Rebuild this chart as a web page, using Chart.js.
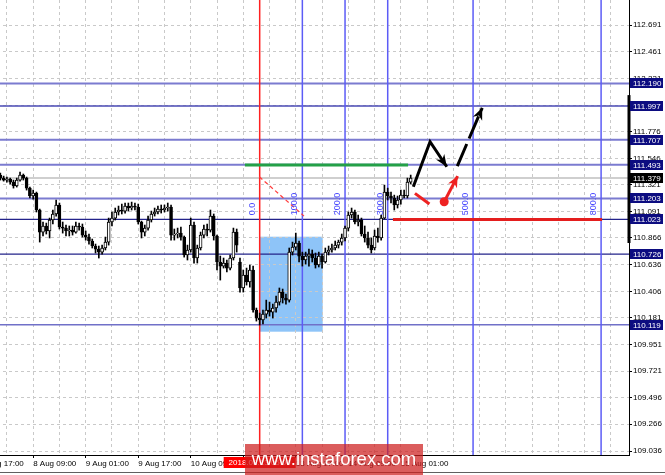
<!DOCTYPE html>
<html>
<head>
<meta charset="utf-8">
<script src="https://cdn.jsdelivr.net/npm/chart.js@4.4.0/dist/chart.umd.min.js"></script>
<style>
  html, body { margin: 0; padding: 0; background: #fff; overflow: hidden; }
  #wrap { position: relative; width: 665px; height: 475px; overflow: hidden; }
  #chart { position: absolute; left: -21px; top: 0; }
  #wm { position: absolute; left: 245px; top: 444px; width: 178px; height: 31px; background: rgba(205,30,30,0.72);
        color: #fff; font: 18.5px "Liberation Sans", Arial, sans-serif; line-height: 30px; text-align: center; }
  #edge { position: absolute; left: 0; top: 472px; width: 665px; height: 1px; background: #606060; }
</style>
</head>
<body>
<div id="wrap">
  <canvas id="chart" width="686" height="475"></canvas>
  <div id="edge"></div>
  <div id="wm">www.instaforex.com</div>
</div>
<script>
// USDJPY H1, 7 Aug 17:00 .. 15 Aug 05:00 (bar slots on the time axis)
const slots = 198;
const firstBar = 6;
const tickText = {0: '7 Aug 17:00', 16: '8 Aug 09:00', 32: '9 Aug 01:00', 48: '9 Aug 17:00', 64: '10 Aug 09:00',
                  80: '13 Aug 01:00', 96: '13 Aug 17:00', 112: '14 Aug 09:00', 128: '15 Aug 01:00'};
const yTicks = [112.691, 112.461, 112.231, 112.001, 111.776, 111.546, 111.321, 111.091, 110.866,
                110.636, 110.406, 110.181, 109.951, 109.721, 109.496, 109.266, 109.036];
const yMin = 109.002, yMax = 112.906;

const opens = [
  111.404, 111.378, 111.361, 111.370, 111.344, 111.310, 111.361, 111.404, 111.378, 111.292,
  111.224, 111.250, 111.104, 110.915, 110.967, 110.924, 111.018, 111.070, 111.147, 110.958,
  110.949, 110.924, 110.932, 110.915, 110.967, 110.958, 110.889, 110.872, 110.838, 110.795,
  110.769, 110.743, 110.778, 110.829, 111.001, 111.035, 111.087, 111.104, 111.095, 111.138,
  111.121, 111.138, 111.130, 111.001, 110.915, 110.949, 111.018, 111.070, 111.087, 111.112,
  111.104, 111.121, 111.130, 110.889, 110.898, 110.906, 110.872, 110.718, 110.761, 110.975,
  110.692, 110.778, 110.889, 110.941, 110.932, 111.052, 110.881, 110.658, 110.623, 110.649,
  110.606, 110.692, 110.915, 110.658, 110.435, 110.546, 110.486, 110.589, 110.246, 110.177,
  110.160, 110.211, 110.246, 110.228, 110.263, 110.314, 110.400, 110.349, 110.331, 110.743,
  110.786, 110.821, 110.709, 110.675, 110.709, 110.726, 110.692, 110.632, 110.709, 110.658,
  110.743, 110.761, 110.778, 110.803, 110.829, 110.864, 110.949, 111.061, 111.087, 111.001,
  111.018, 110.898, 110.864, 110.803, 110.778, 110.881, 110.864, 111.035, 111.258, 111.224,
  111.207, 111.147, 111.190, 111.232, 111.224, 111.344
];
const highs = [
  111.421, 111.395, 111.387, 111.378, 111.361, 111.378, 111.430, 111.413, 111.387, 111.301,
  111.275, 111.258, 111.112, 111.001, 110.992, 111.035, 111.104, 111.190, 111.164, 111.001,
  110.975, 110.967, 110.967, 111.001, 110.992, 110.984, 110.924, 110.898, 110.855, 110.812,
  110.795, 110.803, 110.872, 111.035, 111.087, 111.121, 111.138, 111.155, 111.164, 111.164,
  111.172, 111.164, 111.155, 111.009, 110.975, 111.052, 111.095, 111.121, 111.138, 111.147,
  111.147, 111.164, 111.147, 110.941, 110.949, 110.958, 110.881, 110.803, 111.035, 111.001,
  110.803, 110.915, 110.975, 110.984, 111.104, 111.070, 110.889, 110.709, 110.692, 110.675,
  110.718, 110.949, 110.941, 110.692, 110.589, 110.606, 110.632, 110.623, 110.263, 110.220,
  110.246, 110.331, 110.314, 110.297, 110.366, 110.435, 110.426, 110.383, 110.778, 110.829,
  110.906, 110.838, 110.743, 110.743, 110.769, 110.761, 110.735, 110.743, 110.726, 110.778,
  110.795, 110.812, 110.838, 110.846, 110.898, 110.967, 111.087, 111.121, 111.104, 111.061,
  111.035, 110.967, 110.915, 110.864, 110.932, 110.949, 111.061, 111.318, 111.292, 111.258,
  111.232, 111.224, 111.275, 111.275, 111.378, 111.404
];
const lows = [
  111.361, 111.352, 111.344, 111.327, 111.292, 111.301, 111.352, 111.361, 111.275, 111.207,
  111.198, 111.087, 110.829, 110.881, 110.898, 110.864, 110.984, 111.052, 110.941, 110.906,
  110.881, 110.881, 110.889, 110.906, 110.932, 110.872, 110.846, 110.812, 110.778, 110.735,
  110.692, 110.726, 110.761, 110.803, 110.967, 111.018, 111.061, 111.070, 111.078, 111.095,
  111.104, 111.104, 110.984, 110.864, 110.881, 110.932, 111.001, 111.052, 111.070, 111.078,
  111.087, 111.095, 110.846, 110.846, 110.864, 110.846, 110.700, 110.675, 110.743, 110.649,
  110.649, 110.761, 110.864, 110.881, 110.915, 110.846, 110.589, 110.503, 110.606, 110.572,
  110.589, 110.675, 110.743, 110.400, 110.400, 110.460, 110.443, 110.228, 110.151, 110.117,
  110.126, 110.177, 110.194, 110.177, 110.228, 110.288, 110.306, 110.297, 110.314, 110.718,
  110.761, 110.658, 110.623, 110.640, 110.623, 110.658, 110.606, 110.615, 110.606, 110.649,
  110.718, 110.743, 110.761, 110.778, 110.803, 110.838, 110.924, 111.035, 110.984, 110.967,
  110.881, 110.829, 110.778, 110.735, 110.761, 110.829, 110.846, 111.027, 111.190, 111.164,
  111.104, 111.121, 111.155, 111.207, 111.207, 111.327
];
const closes = [
  111.378, 111.361, 111.370, 111.344, 111.310, 111.361, 111.404, 111.378, 111.292, 111.224,
  111.250, 111.104, 110.915, 110.967, 110.924, 111.018, 111.070, 111.147, 110.958, 110.949,
  110.924, 110.932, 110.915, 110.967, 110.958, 110.889, 110.872, 110.838, 110.795, 110.769,
  110.743, 110.778, 110.829, 111.001, 111.035, 111.087, 111.104, 111.095, 111.138, 111.121,
  111.138, 111.130, 111.001, 110.915, 110.949, 111.018, 111.070, 111.087, 111.112, 111.104,
  111.121, 111.130, 110.889, 110.898, 110.906, 110.872, 110.718, 110.761, 110.975, 110.692,
  110.778, 110.889, 110.941, 110.932, 111.052, 110.881, 110.658, 110.623, 110.649, 110.606,
  110.692, 110.915, 110.803, 110.435, 110.546, 110.486, 110.589, 110.246, 110.177, 110.160,
  110.211, 110.246, 110.228, 110.263, 110.314, 110.400, 110.349, 110.331, 110.743, 110.786,
  110.821, 110.709, 110.675, 110.709, 110.726, 110.692, 110.632, 110.709, 110.658, 110.743,
  110.761, 110.778, 110.803, 110.829, 110.864, 110.949, 111.061, 111.087, 111.001, 111.018,
  110.898, 110.864, 110.803, 110.761, 110.881, 110.864, 111.035, 111.258, 111.224, 111.207,
  111.147, 111.190, 111.232, 111.224, 111.344, 111.378
];

// horizontal levels and the last price
const levelPrices = [112.190, 111.997, 111.707, 111.493, 111.203, 111.023, 110.726, 110.119];
const levelColors = ['#7b7bd0', '#4a4ab4', '#7b7bd0', '#7b7bd0', '#7b7bd0', '#23238a', '#23238a', '#7070c8'];
const levelWidths = [2, 1.5, 2, 2, 2, 1.2, 1.2, 1.5];
const lastPrice = 111.379;

// Fibonacci time zones
const fibStart = 85, fibStep = 13;
const fibZones = [0, 1, 2, 3, 5, 8];
const fibLabels = ['0.0', '100.0', '200.0', '300.0', '500.0', '800.0'];
const fibLabelPrice = 111.06;
const startDate = '2018.08.13 05:00';

// drawn objects, in [bar slot, price]
const zoneBox = [[84.9, 110.875], [104.2, 110.060]];
const greenLine = [[80.5, 111.490], [130.2, 111.490]];
const redLine = [[125.6, 111.023], [189.3, 111.023]];
const dashedRed = [[84.9, 111.389], [98.5, 111.052]];
const blackPath = [[131.8, 111.304], [136.9, 111.690], [142.0, 111.475]];
const blackDashed = [[145.2, 111.481], [152.8, 111.981]];
const redTick = [[132.3, 111.247], [136.7, 111.155]];
const redArrow = [[141.2, 111.175], [145.3, 111.395]];
const axisMark = [112.090, 110.821];

const FONT = '"Liberation Sans", Arial, sans-serif';

const labels = [], wicks = [], bodies = [], fills = [];
for (let i = 0; i < slots; i++) {
  labels.push(i);
  const k = i - firstBar;
  if (k >= 0 && k < opens.length) {
    wicks.push([lows[k], highs[k]]);
    bodies.push([opens[k], closes[k]]);
    fills.push(closes[k] >= opens[k] ? '#ffffff' : '#000000');
  } else {
    wicks.push(null);
    bodies.push(null);
    fills.push('#000000');
  }
}

function line(ctx, pts, color, width, dash) {
  ctx.save();
  ctx.strokeStyle = color;
  ctx.lineWidth = width;
  ctx.setLineDash(dash || []);
  ctx.beginPath();
  pts.forEach((p, i) => i ? ctx.lineTo(p[0], p[1]) : ctx.moveTo(p[0], p[1]));
  ctx.stroke();
  ctx.restore();
}

function head(ctx, from, to, color, len, half) {
  const a = Math.atan2(to[1] - from[1], to[0] - from[0]);
  ctx.save();
  ctx.fillStyle = color;
  ctx.translate(to[0], to[1]);
  ctx.rotate(a);
  ctx.beginPath();
  ctx.moveTo(0, 0);
  ctx.lineTo(-len, -half);
  ctx.lineTo(-len * 0.7, 0);
  ctx.lineTo(-len, half);
  ctx.closePath();
  ctx.fill();
  ctx.restore();
}

function axisBox(ctx, area, yPix, text, bg) {
  ctx.save();
  ctx.fillStyle = bg;
  ctx.fillRect(area.right + 1, Math.round(yPix) - 5, 33, 10);
  ctx.fillStyle = '#fff';
  ctx.font = '8px ' + FONT;
  ctx.textBaseline = 'middle';
  ctx.textAlign = 'left';
  ctx.fillText(text, area.right + 4, Math.round(yPix) + 0.5);
  ctx.restore();
}

const objects = {
  id: 'objects',
  beforeDraw(chart) {
    const {ctx, scales: {x, y}} = chart;
    const x1 = x.getPixelForValue(zoneBox[0][0]), x2 = x.getPixelForValue(zoneBox[1][0]);
    const y1 = y.getPixelForValue(zoneBox[0][1]), y2 = y.getPixelForValue(zoneBox[1][1]);
    ctx.save();
    ctx.fillStyle = '#8ec4f8';
    ctx.fillRect(x1, y1, x2 - x1, y2 - y1);
    ctx.restore();
  },
  beforeDatasetsDraw(chart) {
    const {ctx, chartArea: a, scales: {x, y}} = chart;
    ctx.save();
    ctx.beginPath();
    ctx.rect(a.left, a.top, a.right - a.left, a.bottom - a.top);
    ctx.clip();
    const yl = y.getPixelForValue(lastPrice);
    line(ctx, [[a.left, yl], [a.right, yl]], '#cfcfcf', 2);
    levelPrices.forEach((p, i) => {
      const yp = y.getPixelForValue(p);
      line(ctx, [[a.left, yp], [a.right, yp]], levelColors[i], levelWidths[i]);
    });
    fibZones.forEach((z, i) => {
      const xp = x.getPixelForValue(fibStart + fibStep * z);
      line(ctx, [[xp, a.top], [xp, a.bottom]], i === 0 ? '#ff2020' : '#5c5cf6', 1.5);
    });
    ctx.restore();
  },
  afterDatasetsDraw(chart) {
    const {ctx, chartArea: a, scales: {x, y}} = chart;
    const P = pt => [x.getPixelForValue(pt[0]), y.getPixelForValue(pt[1])];

    line(ctx, greenLine.map(P), '#23a047', 3);
    line(ctx, redLine.map(P), '#e41e1e', 3);
    line(ctx, dashedRed.map(P), '#ff3c3c', 1.2, [4, 3]);

    const bp = blackPath.map(P);
    line(ctx, bp, '#000', 3);
    head(ctx, bp[1], bp[2], '#000', 12, 5);
    const bd = blackDashed.map(P);
    line(ctx, bd, '#000', 3, [24, 6]);
    head(ctx, bd[0], bd[1], '#000', 12, 5);

    line(ctx, redTick.map(P), '#ee2222', 3);
    const ra = redArrow.map(P);
    line(ctx, ra, '#ee2222', 3);
    head(ctx, ra[0], ra[1], '#ee2222', 11, 5);
    ctx.save();
    ctx.fillStyle = '#ee2222';
    ctx.beginPath();
    ctx.arc(ra[0][0], ra[0][1], 4.5, 0, Math.PI * 2);
    ctx.fill();
    ctx.restore();

    // zone labels, written upwards
    const yb = y.getPixelForValue(fibLabelPrice);
    fibZones.forEach((z, i) => {
      const xp = x.getPixelForValue(fibStart + fibStep * z);
      ctx.save();
      ctx.translate(xp - 3, yb);
      ctx.rotate(-Math.PI / 2);
      ctx.fillStyle = '#4646ff';
      ctx.font = '9px ' + FONT;
      ctx.textAlign = 'left';
      ctx.textBaseline = 'bottom';
      ctx.fillText(fibLabels[i], 0, 0);
      ctx.restore();
    });

    // heavy part of the price axis border
    line(ctx, [[a.right, y.getPixelForValue(axisMark[0])], [a.right, y.getPixelForValue(axisMark[1])]], '#000', 3);

    levelPrices.forEach(p => axisBox(ctx, a, y.getPixelForValue(p), p.toFixed(3), '#0c0c80'));
    axisBox(ctx, a, y.getPixelForValue(lastPrice), lastPrice.toFixed(3), '#000');

    // date of the zone start on the time axis
    const xs = x.getPixelForValue(fibStart);
    ctx.save();
    ctx.fillStyle = '#ff0000';
    ctx.fillRect(xs - 36, a.bottom + 2, 72, 11);
    ctx.fillStyle = '#fff';
    ctx.font = '8px ' + FONT;
    ctx.textAlign = 'center';
    ctx.textBaseline = 'middle';
    ctx.fillText(startDate, xs, a.bottom + 8);
    ctx.restore();
  }
};

new Chart(document.getElementById('chart'), {
  type: 'bar',
  data: {
    labels: labels,
    datasets: [
      { data: wicks, backgroundColor: '#000', barThickness: 1, grouped: false, order: 2 },
      { data: bodies, backgroundColor: fills, borderColor: '#000', borderWidth: 1, borderSkipped: false,
        barThickness: 3, grouped: false, order: 1 }
    ]
  },
  options: {
    responsive: false,
    animation: false,
    devicePixelRatio: 1,
    layout: { padding: 0 },
    plugins: { legend: { display: false }, tooltip: { enabled: false } },
    scales: {
      x: {
        type: 'category',
        offset: true,
        grid: {
          offset: false,
          color: '#c9c9c9',
          lineWidth: c => (c.index % 8 === 0 ? 1 : 0),
          tickLength: 3,
          tickColor: '#000',
          tickWidth: c => (tickText[c.index] ? 1 : 0)
        },
        border: { color: '#000', width: 1, dash: [3, 3] },
        ticks: {
          autoSkip: false, maxRotation: 0, minRotation: 0, align: 'start', padding: 1,
          color: '#000', font: { family: FONT, size: 8 },
          callback: (v, i) => tickText[i] || ''
        },
        afterFit(s) { s.height = 20; s.paddingLeft = 0; s.paddingRight = 0; }
      },
      y: {
        position: 'right',
        min: yMin,
        max: yMax,
        grid: { color: '#c9c9c9', lineWidth: 1, tickLength: 3, tickColor: '#000' },
        border: { color: '#000', width: 1, dash: [3, 3] },
        ticks: {
          padding: 1, color: '#000', font: { family: FONT, size: 8 },
          callback: v => Number(v).toFixed(3)
        },
        afterBuildTicks(s) { s.ticks = yTicks.map(v => ({ value: v })); },
        afterFit(s) { s.width = 36; s.paddingTop = 0; s.paddingBottom = 0; }
      }
    }
  },
  plugins: [objects]
});
</script>
</body>
</html>
